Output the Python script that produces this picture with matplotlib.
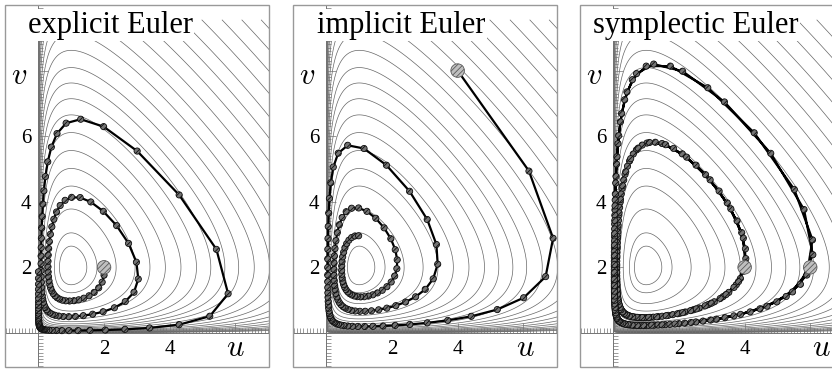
import numpy as np
import matplotlib
matplotlib.use("Agg")
import matplotlib.pyplot as plt
from matplotlib.ticker import MultipleLocator
from matplotlib.patches import Rectangle

plt.rcParams["mathtext.fontset"] = "cm"
plt.rcParams["hatch.linewidth"] = 0.6
plt.rcParams["hatch.color"] = "0.15"
plt.rcParams["contour.negative_linestyle"] = "solid"

# Lotka-Volterra  u' = u(v-2),  v' = v(1-u);  step size h
h = 0.12
titles = ["explicit Euler", "implicit Euler", "symplectic Euler"]
title_x = [0.087, 0.09, 0.05]
u_label_x = [6.0, 6.05, 6.35]
starts = [[(2.0, 2.0)], [(4.0, 8.0)], [(4.0, 2.0), (6.0, 2.0)]]
n_steps = [[125], [126], [135, 135]]
# contour levels of the invariant I = ln u - u + 2 ln v - v
levels = [-10.41, -9.91, -9.41, -8.91, -8.41, -7.91, -7.46, -7.01, -6.56,
          -6.11, -5.71, -5.31, -4.91, -4.56, -4.21, -3.86, -3.49, -3.13,
          -2.79, -2.48, -2.12, -1.82, -1.70]


def explicit_euler(u, v, n):
    us, vs = [u], [v]
    for _ in range(n):
        u, v = u + h * u * (v - 2), v + h * v * (1 - u)
        us.append(u)
        vs.append(v)
    return np.array(us), np.array(vs)


def implicit_euler(u, v, n):
    us, vs = [u], [v]
    for _ in range(n):
        x, y = u, v
        for _ in range(30):
            f1 = x - u - h * x * (y - 2)
            f2 = y - v - h * y * (1 - x)
            J = np.array([[1 - h * (y - 2), -h * x], [h * y, 1 - h * (1 - x)]])
            dx, dy = np.linalg.solve(J, [f1, f2])
            x, y = x - dx, y - dy
        u, v = x, y
        us.append(u)
        vs.append(v)
    return np.array(us), np.array(vs)


def symplectic_euler(u, v, n):
    # v implicit, u explicit
    us, vs = [u], [v]
    for _ in range(n):
        v = v / (1 - h * (1 - u))
        u = u + h * u * (v - 2)
        us.append(u)
        vs.append(v)
    return np.array(us), np.array(vs)


methods = [explicit_euler, implicit_euler, symplectic_euler]

ug = np.concatenate([np.geomspace(1e-5, 0.05, 250), np.linspace(0.05, 7.1, 700)[1:]])
vg = np.concatenate([np.geomspace(1e-5, 0.05, 250), np.linspace(0.05, 9.55, 900)[1:]])
U, V = np.meshgrid(ug, vg)
Z = np.log(U) - U + 2 * np.log(V) - V

fig = plt.figure(figsize=(8.32, 3.69), dpi=100)
lefts = [5 / 832, 293 / 832, 580 / 832]
for i in range(3):
    ax = fig.add_axes([lefts[i], 2 / 369, 264 / 832, 362 / 369])
    ax.set_xlim(-1.02, 7.03)
    ax.set_ylim(-1.04, 10.0)
    ax.contour(U, V, Z, levels=sorted(levels), colors="0.4",
               linewidths=0.5, linestyles="solid", zorder=1)

    for s in ["top", "right"]:
        ax.spines[s].set_visible(False)
    for s in ["left", "bottom"]:
        ax.spines[s].set_position(("data", 0))
        ax.spines[s].set_color("0.45")
        ax.spines[s].set_linewidth(0.7)
    ax.set_xticks([2, 4, 6], ["2", "4", ""])
    ax.set_yticks([2, 4, 6, 8], ["2", "4", "6", ""])
    ax.xaxis.set_minor_locator(MultipleLocator(0.1))
    ax.yaxis.set_minor_locator(MultipleLocator(0.1))
    ax.tick_params(which="both", direction="in", color="0.45", width=0.5)
    ax.tick_params(which="major", length=7, pad=5, labelsize=15)
    ax.tick_params(which="minor", length=3.5)
    for lab in ax.get_xticklabels() + ax.get_yticklabels():
        lab.set_family("Liberation Serif")

    ax.add_patch(Rectangle((0, 0), 1, 1, transform=ax.transAxes, fill=False,
                           ec="0.6", lw=1, clip_on=False, zorder=7))

    for (u0, v0), n in zip(starts[i], n_steps[i]):
        us, vs = methods[i](u0, v0, n)
        ax.plot(us, vs, color="k", lw=1.6, zorder=3)
        ax.scatter(us[1:], vs[1:], s=20, facecolor="0.45", edgecolor="0.05",
                   linewidths=0.6, hatch="//////", zorder=4)
        ax.scatter([u0], [v0], s=95, facecolor="0.75", edgecolor="0.35",
                   linewidths=0.6, hatch="//////", zorder=5)

    ax.text(title_x[i], 0.923, titles[i], transform=ax.transAxes, fontsize=22,
            family="Liberation Serif", ha="left", va="baseline", zorder=6,
            bbox=dict(fc="white", ec="none", boxstyle="square,pad=0.05"))
    ax.text(-0.6, 7.85, "$v$", fontsize=22, ha="center", va="center", zorder=6)
    ax.text(u_label_x[i], -0.45, "$u$", fontsize=22, ha="center", va="center",
            zorder=6)

fig.savefig("out.png", dpi=100)
